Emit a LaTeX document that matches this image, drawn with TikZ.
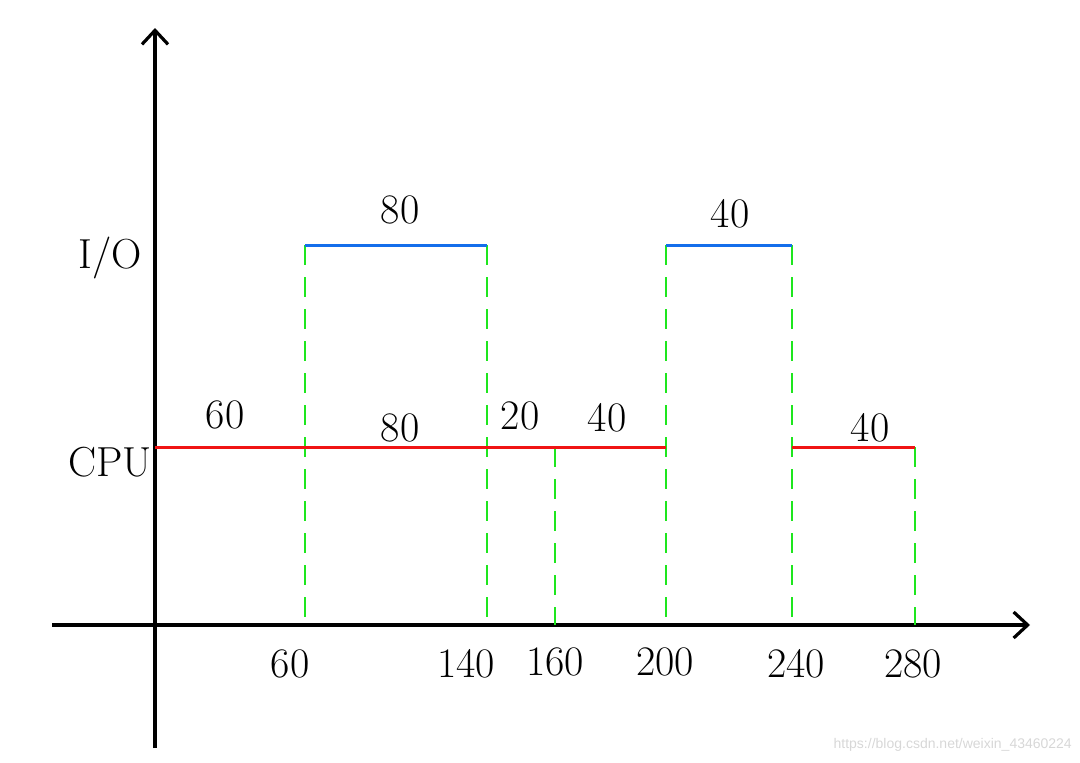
\documentclass[tikz,border=0pt]{standalone}
\usepackage{fontspec}
\newfontfamily\wmfont{Liberation Sans}
\usetikzlibrary{arrows.meta}
\definecolor{cpured}{RGB}{240,20,20}
\definecolor{ioblue}{RGB}{20,110,235}
\definecolor{dashgreen}{RGB}{30,230,30}
\definecolor{wmgray}{RGB}{215,215,215}
\tikzset{
  axis/.style={line width=3.2pt, black, -{Straight Barb[length=14pt,width=26pt,line width=3.2pt]}},
  cpuline/.style={line width=3pt, cpured},
  ioline/.style={line width=3pt, ioblue},
  guide/.style={line width=2.5pt, dashgreen, dash pattern=on 20pt off 12pt},
  lbl/.style={font=\fontsize{42}{42}\selectfont, inner sep=0pt},
  wm/.style={font=\wmfont\fontsize{14}{14}\selectfont, text=wmgray, inner sep=0pt}
}
\begin{document}
\begin{tikzpicture}[x=1pt,y=-1pt]
\useasboundingbox (0,0) rectangle (1080,763);
% axes
\coordinate (ybot) at (155,748);
\coordinate (ytop) at (155,28);
\coordinate (xleft) at (52,625);
\coordinate (xright) at (1030,625);
\draw[axis] (ybot) -- (ytop);
\draw[axis] (xleft) -- (xright);
% level points
\coordinate (c0) at (155,447);
\coordinate (c200) at (666,447);
\coordinate (c240) at (792,447);
\coordinate (c280) at (915,447);
\coordinate (c160) at (555,447);
\coordinate (i60) at (305,245);
\coordinate (i140) at (487,245);
\coordinate (i200) at (666,245);
\coordinate (i240) at (792,245);
\coordinate (b60) at (305,625);
\coordinate (b140) at (487,625);
\coordinate (b160) at (555,625);
\coordinate (b200) at (666,625);
\coordinate (b240) at (792,625);
\coordinate (b280) at (915,625);
% green guides
\draw[guide] (i60) -- (b60);
\draw[guide] (i140) -- (b140);
\draw[guide] (c160) -- (b160);
\draw[guide] (i200) -- (b200);
\draw[guide] (i240) -- (b240);
\draw[guide] (c280) -- (b280);
% cpu / io bars
\draw[cpuline] (c0) -- (c200);
\draw[cpuline] (c240) -- (c280);
\draw[ioline] (i60) -- (i140);
\draw[ioline] (i200) -- (i240);
% level labels
\node[lbl] (lio) at (110,258) {I/O};
\node[lbl] (lcpu) at (110,462) {CPU};
% segment labels
\node[lbl] (s1) at (400,210) {80};
\node[lbl] (s2) at (730,214) {40};
\node[lbl] (s3) at (225,415) {60};
\node[lbl] (s4) at (400,428) {80};
\node[lbl] (s5) at (520,416) {20};
\node[lbl] (s6) at (607,418) {40};
\node[lbl] (s7) at (870,428) {40};
% tick labels
\node[lbl] (t60) at (290,664) {60};
\node[lbl] (t140) at (466,664) {140};
\node[lbl] (t160) at (555,662) {160};
\node[lbl] (t200) at (665,662) {200};
\node[lbl] (t240) at (796,664) {240};
\node[lbl] (t280) at (913,664) {280};
% watermark
\node[wm, anchor=east] (wmk) at (1072,745) {https://blog.csdn.net/weixin\_43460224};
\end{tikzpicture}
\end{document}
